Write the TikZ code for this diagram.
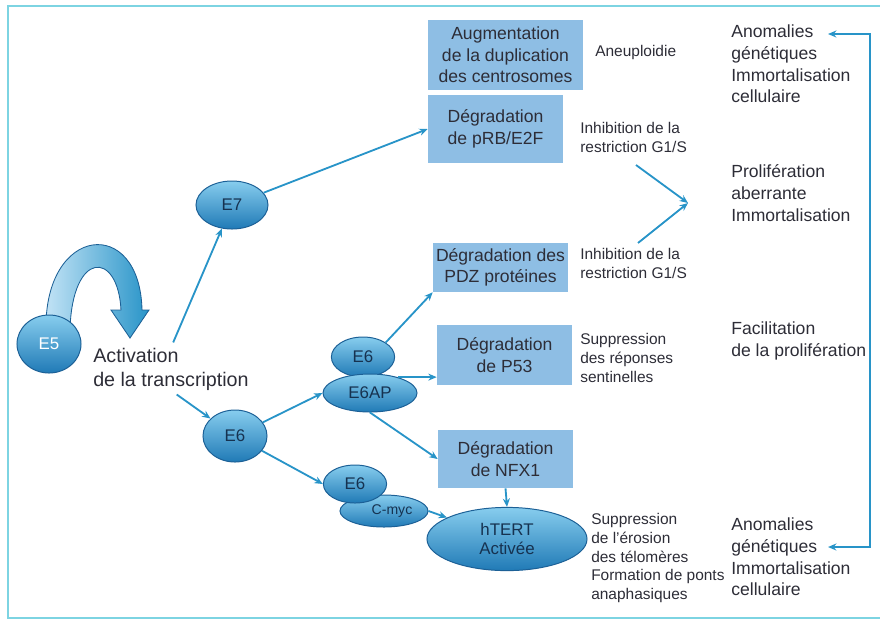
\documentclass[tikz,border=0pt]{standalone}
\usepackage{fontspec}
\setmainfont{Liberation Sans}
\usetikzlibrary{arrows.meta,shapes.geometric}

\definecolor{flowblue}{RGB}{40,148,200}
\definecolor{boxblue}{RGB}{142,190,228}
\definecolor{ovaltop}{RGB}{135,205,238}
\definecolor{ovalbot}{RGB}{32,122,182}
\definecolor{ovaledge}{RGB}{28,96,150}
\definecolor{ovalink}{RGB}{22,50,80}
\definecolor{inkgrey}{RGB}{45,45,55}
\definecolor{framecyan}{RGB}{125,212,226}
\definecolor{ribbonlight}{RGB}{196,228,246}

\begin{document}
\begin{tikzpicture}[x=0.025cm, y=-0.025cm,
    box/.style={fill=boxblue, minimum width=3.375cm, inner sep=1pt,
                align=center, text=inkgrey,
                font=\fontsize{12.5}{15.3}\selectfont},
    prot/.style={ellipse, draw=ovaledge, line width=0.7pt, align=center,
                 top color=ovaltop, bottom color=ovalbot, inner sep=0pt,
                 text=ovalink, font=\fontsize{12}{14}\selectfont},
    flow/.style={-{Stealth[length=6pt,width=5pt]}, line width=1.3pt,
                 draw=flowblue},
    note/.style={align=left, anchor=west, inner sep=0pt, text=inkgrey,
                 font=\fontsize{11}{13.5}\selectfont},
    effect/.style={note, font=\fontsize{12.5}{15.4}\selectfont},
]
    \useasboundingbox (0,0) rectangle (880,621);
    \draw[framecyan, line width=1.5pt] (8,6) rectangle (884,618);

    % self-activation ribbon of E5
    \shade[left color=ribbonlight, right color=flowblue, draw=ovaledge,
           line width=0.6pt]
        (46,330) .. controls (44,225) and (140,215) .. (142,310)
        -- (149,310) -- (130,338) -- (111,310) -- (121,310)
        .. controls (118,250) and (72,250) .. (70,330) -- cycle;
    \node[prot, minimum width=1.6cm, minimum height=1.45cm, text=white]
        (e5) at (49,344) {E5};
    \node[anchor=west, align=left, inner sep=0pt, text=inkgrey,
          font=\fontsize{14}{17}\selectfont]
        (act) at (93,369) {Activation\\de la transcription};

    % viral oncoproteins and complexes
    \node[prot, minimum width=1.8cm, minimum height=1.2cm] (e7) at (232,205) {E7};
    \node[prot, minimum width=1.6cm, minimum height=1.3cm] (e6) at (235,436) {E6};
    \node[prot, minimum width=1.58cm, minimum height=1.0cm] (e6a) at (363,357) {E6};
    \node[prot, minimum width=2.35cm, minimum height=0.95cm] (e6ap) at (370,393) {E6AP};
    \node[prot, minimum width=2.2cm, minimum height=0.8cm,
          font=\fontsize{10}{12}\selectfont] (cmyc) at (384,511) {\hspace{0.4cm}C-myc};
    \node[prot, minimum width=1.58cm, minimum height=0.95cm] (e6b) at (355,484) {E6};
    \node[prot, minimum width=4.0cm, minimum height=1.58cm] (htert) at (507,539) {hTERT\\Activée};

    % targets
    \node[box, minimum width=3.875cm, minimum height=1.75cm] (aug) at (505.5,55)
        {Augmentation\\de la duplication\\des centrosomes};
    \node[box, minimum height=1.7cm] (prb) at (495.5,129) {Dégradation\\de pRB/E2F};
    \node[box, minimum height=1.225cm] (pdz) at (500.5,267.5) {Dégradation des\\PDZ protéines};
    \node[box, minimum height=1.5cm] (p53) at (504.5,355) {Dégradation\\de P53};
    \node[box, minimum height=1.45cm] (nfx) at (505.5,459) {Dégradation\\de NFX1};

    % cellular consequences
    \node[note] (aneu) at (595,52) {Aneuploidie};
    \node[note] (inh1) at (580,137) {Inhibition de la\\restriction G1/S};
    \node[note] (inh2) at (580,263) {Inhibition de la\\restriction G1/S};
    \node[note] (supp1) at (580,358) {Suppression\\des réponses\\sentinelles};
    \node[note] (supp2) at (591,558)
        {Suppression\\de l'érosion\\des télomères\\Formation de ponts\\anaphasiques};
    \node[effect] (anom1) at (731,64) {Anomalies\\génétiques\\Immortalisation\\cellulaire};
    \node[effect] (prolif) at (731,193) {Prolifération\\aberrante\\Immortalisation};
    \node[effect] (facil) at (731,341) {Facilitation\\de la prolifération};
    \node[effect] (anom2) at (731,557) {Anomalies\\génétiques\\Immortalisation\\cellulaire};

    \draw[flow, shorten <=4pt] (act.north) -- (e7);
    \draw[flow, shorten <=5pt] (act.south) -- (e6);
    \draw[flow] (e7) -- (prb.west);
    \draw[flow] (e6) -- (e6ap.west);
    \draw[flow] (e6) -- (e6b.west);
    \draw[flow] (e6a.north east) -- (pdz.south west);
    \draw[flow] (e6ap.30) -- (e6ap.30 -| p53.west);
    \draw[flow] (e6ap.south) -- (nfx.west);
    \draw[flow] (nfx.south) -- (htert.north);
    \draw[flow] (cmyc.east) -- (htert);

    \coordinate (chevA) at (636,165);
    \coordinate (chevB) at (638,243);
    \coordinate (chevT) at (688,203);
    \draw[flow] (chevA) -- (chevT);
    \draw[flow] (chevB) -- (chevT);

    \coordinate (brT) at (828,34);
    \coordinate (brB) at (828,547);
    \draw[flow, {Stealth[length=6pt,width=5pt]}-{Stealth[length=6pt,width=5pt]}]
        (brT) -- ++(42,0) |- (brB);

\end{tikzpicture}
\end{document}
